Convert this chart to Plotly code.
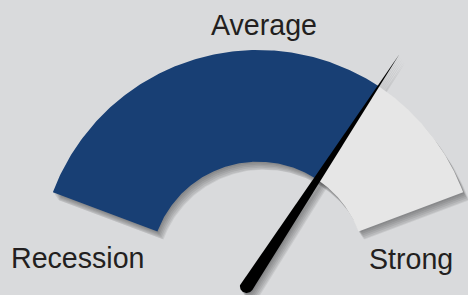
import numpy as np
import plotly.graph_objects as go

# ---- data ----
labels = ["Recession", "Average", "Strong"]
gauge_min = 0
gauge_max = 100
value = 74

# ---- style / geometry ----
W, H = 468, 295
CX, CY, SCALE = 258, 269, 219.0  # centre in pixels, pixels per unit
START, END = 159.5, 20.5          # degrees
R_OUT, R_IN = 1.0, 0.49
BG = "#d9dadc"
BLUE = "#183f74"
REST = "#e6e6e6"
TXT = "#231f20"


def ang(v):
    return START - (v - gauge_min) / (gauge_max - gauge_min) * (START - END)


def sector(a0, a1, n=160):
    t = np.radians(np.linspace(a0, a1, n))
    xs = np.concatenate([R_OUT * np.cos(t), R_IN * np.cos(t[::-1])])
    ys = np.concatenate([R_OUT * np.sin(t), R_IN * np.sin(t[::-1])])
    return np.append(xs, xs[0]), np.append(ys, ys[0])


def needle(v, tip=1.174, back=0.094, hw=0.031):
    a = np.radians(ang(v))
    ux, uy = np.cos(a), np.sin(a)
    px_, py_ = -uy, ux
    bx, by = -back * ux, -back * uy
    t = np.linspace(0, np.pi, 30)
    capx = bx + hw * (np.cos(t) * px_ - np.sin(t) * ux)
    capy = by + hw * (np.cos(t) * py_ - np.sin(t) * uy)
    xs = np.concatenate([[tip * ux], capx, [tip * ux]])
    ys = np.concatenate([[tip * uy], capy, [tip * uy]])
    return xs, ys


fig = go.Figure()

arc_x, arc_y = sector(START, END)
nx, ny = needle(value)

# soft drop shadows
for k, (ox, oy) in enumerate([(1, 1.5), (2, 3), (3, 4.5), (4, 6), (5, 7.5), (6, 8)]):
    for sx, sy in [(arc_x, arc_y), (nx, ny)]:
        fig.add_trace(go.Scatter(
            x=sx + ox / SCALE, y=sy - oy / SCALE, mode="lines", fill="toself",
            fillcolor="rgba(0,0,0,0.07)", line=dict(width=0), hoverinfo="skip",
            showlegend=False))

bx, by = sector(START, ang(value))
rx, ry = sector(ang(value), END)
fig.add_trace(go.Scatter(x=rx, y=ry, mode="lines", fill="toself", fillcolor=REST,
                         line=dict(width=0), hoverinfo="skip", showlegend=False))
fig.add_trace(go.Scatter(x=bx, y=by, mode="lines", fill="toself", fillcolor=BLUE,
                         line=dict(width=0), hoverinfo="skip", showlegend=False))
fig.add_trace(go.Scatter(x=nx, y=ny, mode="lines", fill="toself", fillcolor="#000000",
                         line=dict(width=0), hoverinfo="skip", showlegend=False))


def ux(p):
    return (p - CX) / SCALE


def uy(p):
    return (CY - p) / SCALE


label_pos = [(78, 258), (264, 25), (410.5, 259)]
for lab, (lx, ly) in zip(labels, label_pos):
    fig.add_annotation(x=ux(lx), y=uy(ly), text=lab, showarrow=False,
                       xanchor="center", yanchor="middle",
                       font=dict(family="Arial, Liberation Sans, sans-serif",
                                 size=28.6, color=TXT))

fig.update_layout(
    width=W, height=H, margin=dict(l=0, r=0, t=0, b=0),
    paper_bgcolor=BG, plot_bgcolor=BG,
    xaxis=dict(range=[ux(0), ux(W)], visible=False, fixedrange=True),
    yaxis=dict(range=[uy(H), uy(0)], visible=False, fixedrange=True),
)

fig.write_html("out.html", config={"displayModeBar": False},
               post_script="document.body.style.margin='0';document.body.style.overflow='hidden';")
